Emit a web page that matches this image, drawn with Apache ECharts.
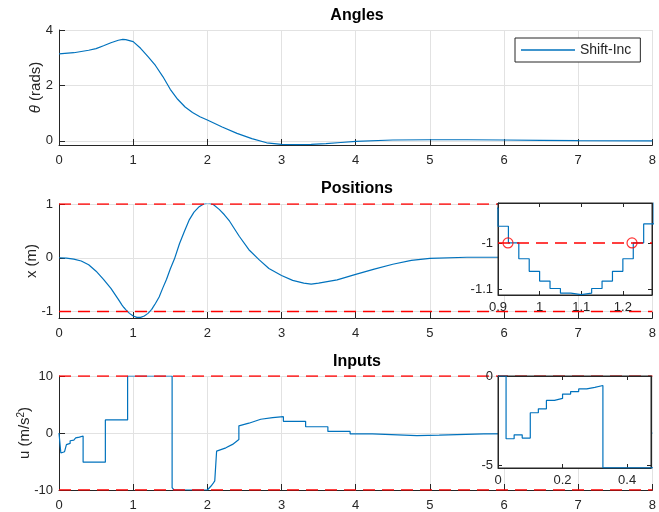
<!DOCTYPE html>
<html>
<head>
<meta charset="utf-8">
<script src="https://cdn.jsdelivr.net/npm/echarts@6/dist/echarts.min.js"></script>
<style>
  html, body { margin: 0; padding: 0; background: #fff; }
  #chart { width: 659px; height: 512px; }
</style>
</head>
<body>
<div id="chart"></div>
<script>
// values
const thetaT = [0, 0.2, 0.4, 0.5, 0.6, 0.7, 0.8, 0.86, 0.9, 1.0, 1.1, 1.2, 1.3, 1.4, 1.5, 1.6, 1.7, 1.8, 1.9, 2.0,
  2.2, 2.4, 2.6, 2.8, 3.0, 3.2, 3.4, 3.6, 3.8, 4.0, 4.5, 5.0, 5.5, 6.0, 6.5, 7.0, 8.0];
const theta = [3.14, 3.18, 3.27, 3.33, 3.43, 3.54, 3.63, 3.66, 3.65, 3.58, 3.34, 3.04, 2.72, 2.32, 1.86, 1.50, 1.22, 1.02, 0.87, 0.75,
  0.50, 0.27, 0.08, -0.07, -0.13, -0.14, -0.13, -0.10, -0.06, -0.02, 0.03, 0.04, 0.04, 0.03, 0.02, 0.01, 0.0];

const posT = [0, 0.1, 0.2, 0.3, 0.4, 0.5, 0.6, 0.7, 0.8, 0.85,
  0.875, 0.9, 0.925, 0.95, 0.975, 1.0, 1.025, 1.05, 1.075, 1.1,
  1.125, 1.15, 1.175, 1.2, 1.225, 1.25, 1.275, 1.3, 1.35, 1.4,
  1.45, 1.5, 1.557, 1.624, 1.69, 1.758, 1.82, 1.89, 1.95, 2.01,
  2.08, 2.16, 2.23, 2.3, 2.43, 2.56, 2.7, 2.83, 3.0, 3.15,
  3.3, 3.4, 3.5, 3.75, 4.0, 4.25, 4.5, 4.75, 5.0, 5.5,
  6.0, 7.0, 8.0];
const pos = [0, -0.005, -0.025, -0.06, -0.13, -0.25, -0.40, -0.57, -0.775, -0.88,
  -0.925, -0.964, -1.0, -1.034, -1.061, -1.082, -1.098, -1.108, -1.111, -1.108,
  -1.098, -1.082, -1.061, -1.034, -1.0, -0.959, -0.905, -0.85, -0.73, -0.56,
  -0.40, -0.21, -0.02, 0.26, 0.49, 0.71, 0.85, 0.95, 1.0, 1.02,
  0.99, 0.9, 0.8, 0.68, 0.4, 0.15, -0.04, -0.2, -0.33, -0.42,
  -0.47, -0.49, -0.47, -0.41, -0.31, -0.21, -0.12, -0.05, -0.01, 0.01,
  0.01, 0.0, 0.0];

// input: repeated times are the jumps
const uT = [0, 0.025, 0.025, 0.05, 0.05, 0.075, 0.075, 0.1, 0.1, 0.125,
  0.125, 0.15, 0.15, 0.175, 0.175, 0.2, 0.2, 0.225, 0.225, 0.25,
  0.25, 0.275, 0.275, 0.3, 0.3, 0.325, 0.325, 0.625, 0.625, 0.925,
  0.925, 1.525, 1.525, 1.55, 1.55, 2.0, 2.025, 2.05, 2.075, 2.1,
  2.125, 2.125, 2.25, 2.34, 2.425, 2.425, 2.56, 2.72, 2.88, 3.025,
  3.025, 3.325, 3.325, 3.625, 3.625, 3.925, 3.925, 4.225, 4.225, 4.825,
  4.825, 5.125, 5.125, 5.725, 5.725, 8.0];
const u = [0, 0, -3.5, -3.5, -3.28, -3.28, -3.46, -3.46, -2.05, -2.05,
  -1.83, -1.83, -1.36, -1.36, -1.25, -1.25, -1.01, -1.01, -0.87, -0.87,
  -0.72, -0.72, -0.63, -0.63, -0.53, -0.53, -5.12, -5.12, 2.3, 2.3,
  10, 10, -9.6, -9.6, -10, -10, -9.9, -9.3, -8.9, -8.4,
  -8.3, -3.17, -2.6, -2.0, -1.15, 1.26, 1.72, 2.41, 2.69, 2.86,
  2.05, 2.05, 1.1, 1.1, 0.28, 0.28, -0.17, -0.17, -0.45, -0.45,
  -0.38, -0.38, -0.17, -0.17, -0.02, -0.02];

const posLimits = [-1, 1];
const uLimits = [-10, 10];
const crossT = [0.924, 1.222];
const crossX = [-1, -1];

const tRange = [0, 8];
const zoomPosRange = [0.9, 1.27];
const zoomURange = [0, 0.474];

const thetaTicks = [0, 2, 4];
const posTicks = [-1, 0, 1];
const zoomPosXTicks = [0.9, 1, 1.1, 1.2];
const zoomPosYTicks = [-1.1, -1];
const zoomUXTicks = [0, 0.2, 0.4];
const zoomUYTicks = [-5, 0];

const FONT = "'Liberation Sans', Arial, Helvetica, sans-serif";
const DARK = '#262626';
const BLUE = '#0072BD';
const RED = '#ff0000';

const pair = (ts, vs) => ts.map((t, i) => [t, vs[i]]);

const labelStyle = () => ({ color: DARK, fontSize: 13, fontFamily: FONT });

function mainX(grid) {
  return {
    type: 'value', gridIndex: grid, min: tRange[0], max: tRange[1], interval: 1,
    axisLine: { show: true, onZero: false, lineStyle: { color: DARK, width: 1 } },
    axisTick: { show: true, inside: true, length: 6, lineStyle: { color: DARK } },
    axisLabel: Object.assign({ margin: 9, showMinLabel: true, showMaxLabel: true }, labelStyle()),
    splitLine: { show: true, lineStyle: { color: '#e2e2e2' } },
  };
}

function mainY(grid, min, max, ticks, name, gap) {
  const ax = {
    type: 'value', gridIndex: grid, min: min, max: max,
    axisLine: { show: true, onZero: false, lineStyle: { color: DARK, width: 1 } },
    axisTick: { show: true, inside: true, length: 6, lineStyle: { color: DARK } },
    axisLabel: Object.assign({ margin: 6, showMinLabel: true, showMaxLabel: true }, labelStyle()),
    splitLine: { show: true, lineStyle: { color: '#e2e2e2' } },
    name: name, nameLocation: 'middle', nameGap: gap, nameMoveOverlap: false,
    nameTextStyle: {
      color: DARK, fontSize: 15, fontFamily: FONT,
      rich: {
        it: { fontStyle: 'italic', fontSize: 15, fontFamily: FONT, color: DARK },
        sup: { fontSize: 10, fontFamily: FONT, color: DARK, verticalAlign: 'bottom', padding: [0, 0, 8, 0] },
      },
    },
  };
  if (ticks) {
    ax.axisTick.customValues = ticks;
    ax.axisLabel.customValues = ticks;
  } else {
    ax.interval = 10;
  }
  return ax;
}

function zoomAxis(dim, grid, range, ticks, position, labels) {
  return {
    type: 'value', gridIndex: grid, min: range[0], max: range[1], position: position, z: 6,
    axisLine: { show: true, onZero: false, lineStyle: { color: DARK, width: 1 } },
    axisTick: { show: true, inside: true, length: 4, customValues: ticks, lineStyle: { color: DARK } },
    axisLabel: Object.assign({ show: labels, margin: dim === 'x' ? 6 : 5, customValues: ticks }, labelStyle()),
    splitLine: { show: false },
  };
}

const blueLine = (xi, data, extra) => Object.assign({
  type: 'line', name: 'Shift-Inc', xAxisIndex: xi, yAxisIndex: xi,
  data: data, showSymbol: false, symbol: 'none',
  lineStyle: { color: BLUE, width: 1.2 }, itemStyle: { color: BLUE },
}, extra || {});

// dashed red limit lines across an axis range
function limitSeries(axis, range, v, z) {
  return {
    type: 'line', name: 'limit', xAxisIndex: axis, yAxisIndex: axis, z: z,
    data: [[range[0], v], [range[1], v]], showSymbol: false, symbol: 'none', silent: true,
    lineStyle: { color: RED, type: [12, 7], width: 1.5 }, itemStyle: { color: RED },
  };
}

const series = [
  blueLine(0, pair(thetaT, theta)),
  blueLine(1, pair(posT, pos)),
  blueLine(2, pair(uT, u)),
  blueLine(3, pair(posT, pos), { z: 6, step: 'end' }),
  blueLine(5, pair(uT, u), { z: 6 }),
  {
    type: 'scatter', name: 'crossings', xAxisIndex: 3, yAxisIndex: 3, z: 7,
    data: pair(crossT, crossX), symbol: 'circle', symbolSize: 10,
    itemStyle: { color: 'rgba(0,0,0,0)', borderColor: RED, borderWidth: 1.2 },
  },
];
posLimits.forEach(v => series.push(limitSeries(1, tRange, v, 3)));
uLimits.forEach(v => series.push(limitSeries(2, tRange, v, 3)));
series.push(limitSeries(3, zoomPosRange, -1, 6));

const chart = echarts.init(document.getElementById('chart'));
chart.setOption({
  animation: false,
  backgroundColor: '#fff',
  textStyle: { fontFamily: FONT },
  title: [
    { text: 'Angles', left: 357, top: 8, textAlign: 'center' },
    { text: 'Positions', left: 357, top: 181, textAlign: 'center' },
    { text: 'Inputs', left: 357, top: 354, textAlign: 'center' },
  ].map(t => Object.assign(t, { padding: 0, textStyle: { fontSize: 16, fontWeight: 'bold', color: '#000', fontFamily: FONT } })),
  legend: {
    data: ['Shift-Inc'], left: 515, top: 38, padding: [5, 9, 5, 6],
    backgroundColor: '#fff', borderColor: DARK, borderWidth: 1, borderRadius: 0,
    icon: 'rect', itemWidth: 54, itemHeight: 1.5, itemGap: 0,
    textStyle: { color: DARK, fontSize: 14, fontFamily: FONT, padding: [0, 0, 0, 0] },
  },
  grid: [
    { left: 59, top: 30, width: 596, height: 115 },
    { left: 59, top: 204, width: 596, height: 114 },
    { left: 59, top: 376, width: 596, height: 116 },
    { left: 498, top: 203, width: 154, height: 92, show: true, z: 5, backgroundColor: '#fff', borderColor: DARK, borderWidth: 1 },
    { left: 498, top: 376, width: 153, height: 92, show: true, z: 5, backgroundColor: '#fff', borderColor: DARK, borderWidth: 1 },
  ],
  xAxis: [
    mainX(0), mainX(1), mainX(2),
    zoomAxis('x', 3, zoomPosRange, zoomPosXTicks, 'bottom', true),
    zoomAxis('x', 3, zoomPosRange, zoomPosXTicks, 'top', false),
    zoomAxis('x', 4, zoomURange, zoomUXTicks, 'bottom', true),
    zoomAxis('x', 4, zoomURange, zoomUXTicks, 'top', false),
  ],
  yAxis: [
    mainY(0, -0.15, 4, thetaTicks, '{it|θ} (rads)', 16),
    mainY(1, -1.12, 1, posTicks, 'x (m)', 20),
    mainY(2, -10, 10, null, 'u (m/s{sup|2})', 25),
    zoomAxis('y', 3, [-1.112, -0.914], zoomPosYTicks, 'left', true),
    zoomAxis('y', 3, [-1.112, -0.914], zoomPosYTicks, 'right', false),
    zoomAxis('y', 4, [-5.13, 0], zoomUYTicks, 'left', true),
    zoomAxis('y', 4, [-5.13, 0], zoomUYTicks, 'right', false),
  ],
  series: series,
});
</script>
</body>
</html>
